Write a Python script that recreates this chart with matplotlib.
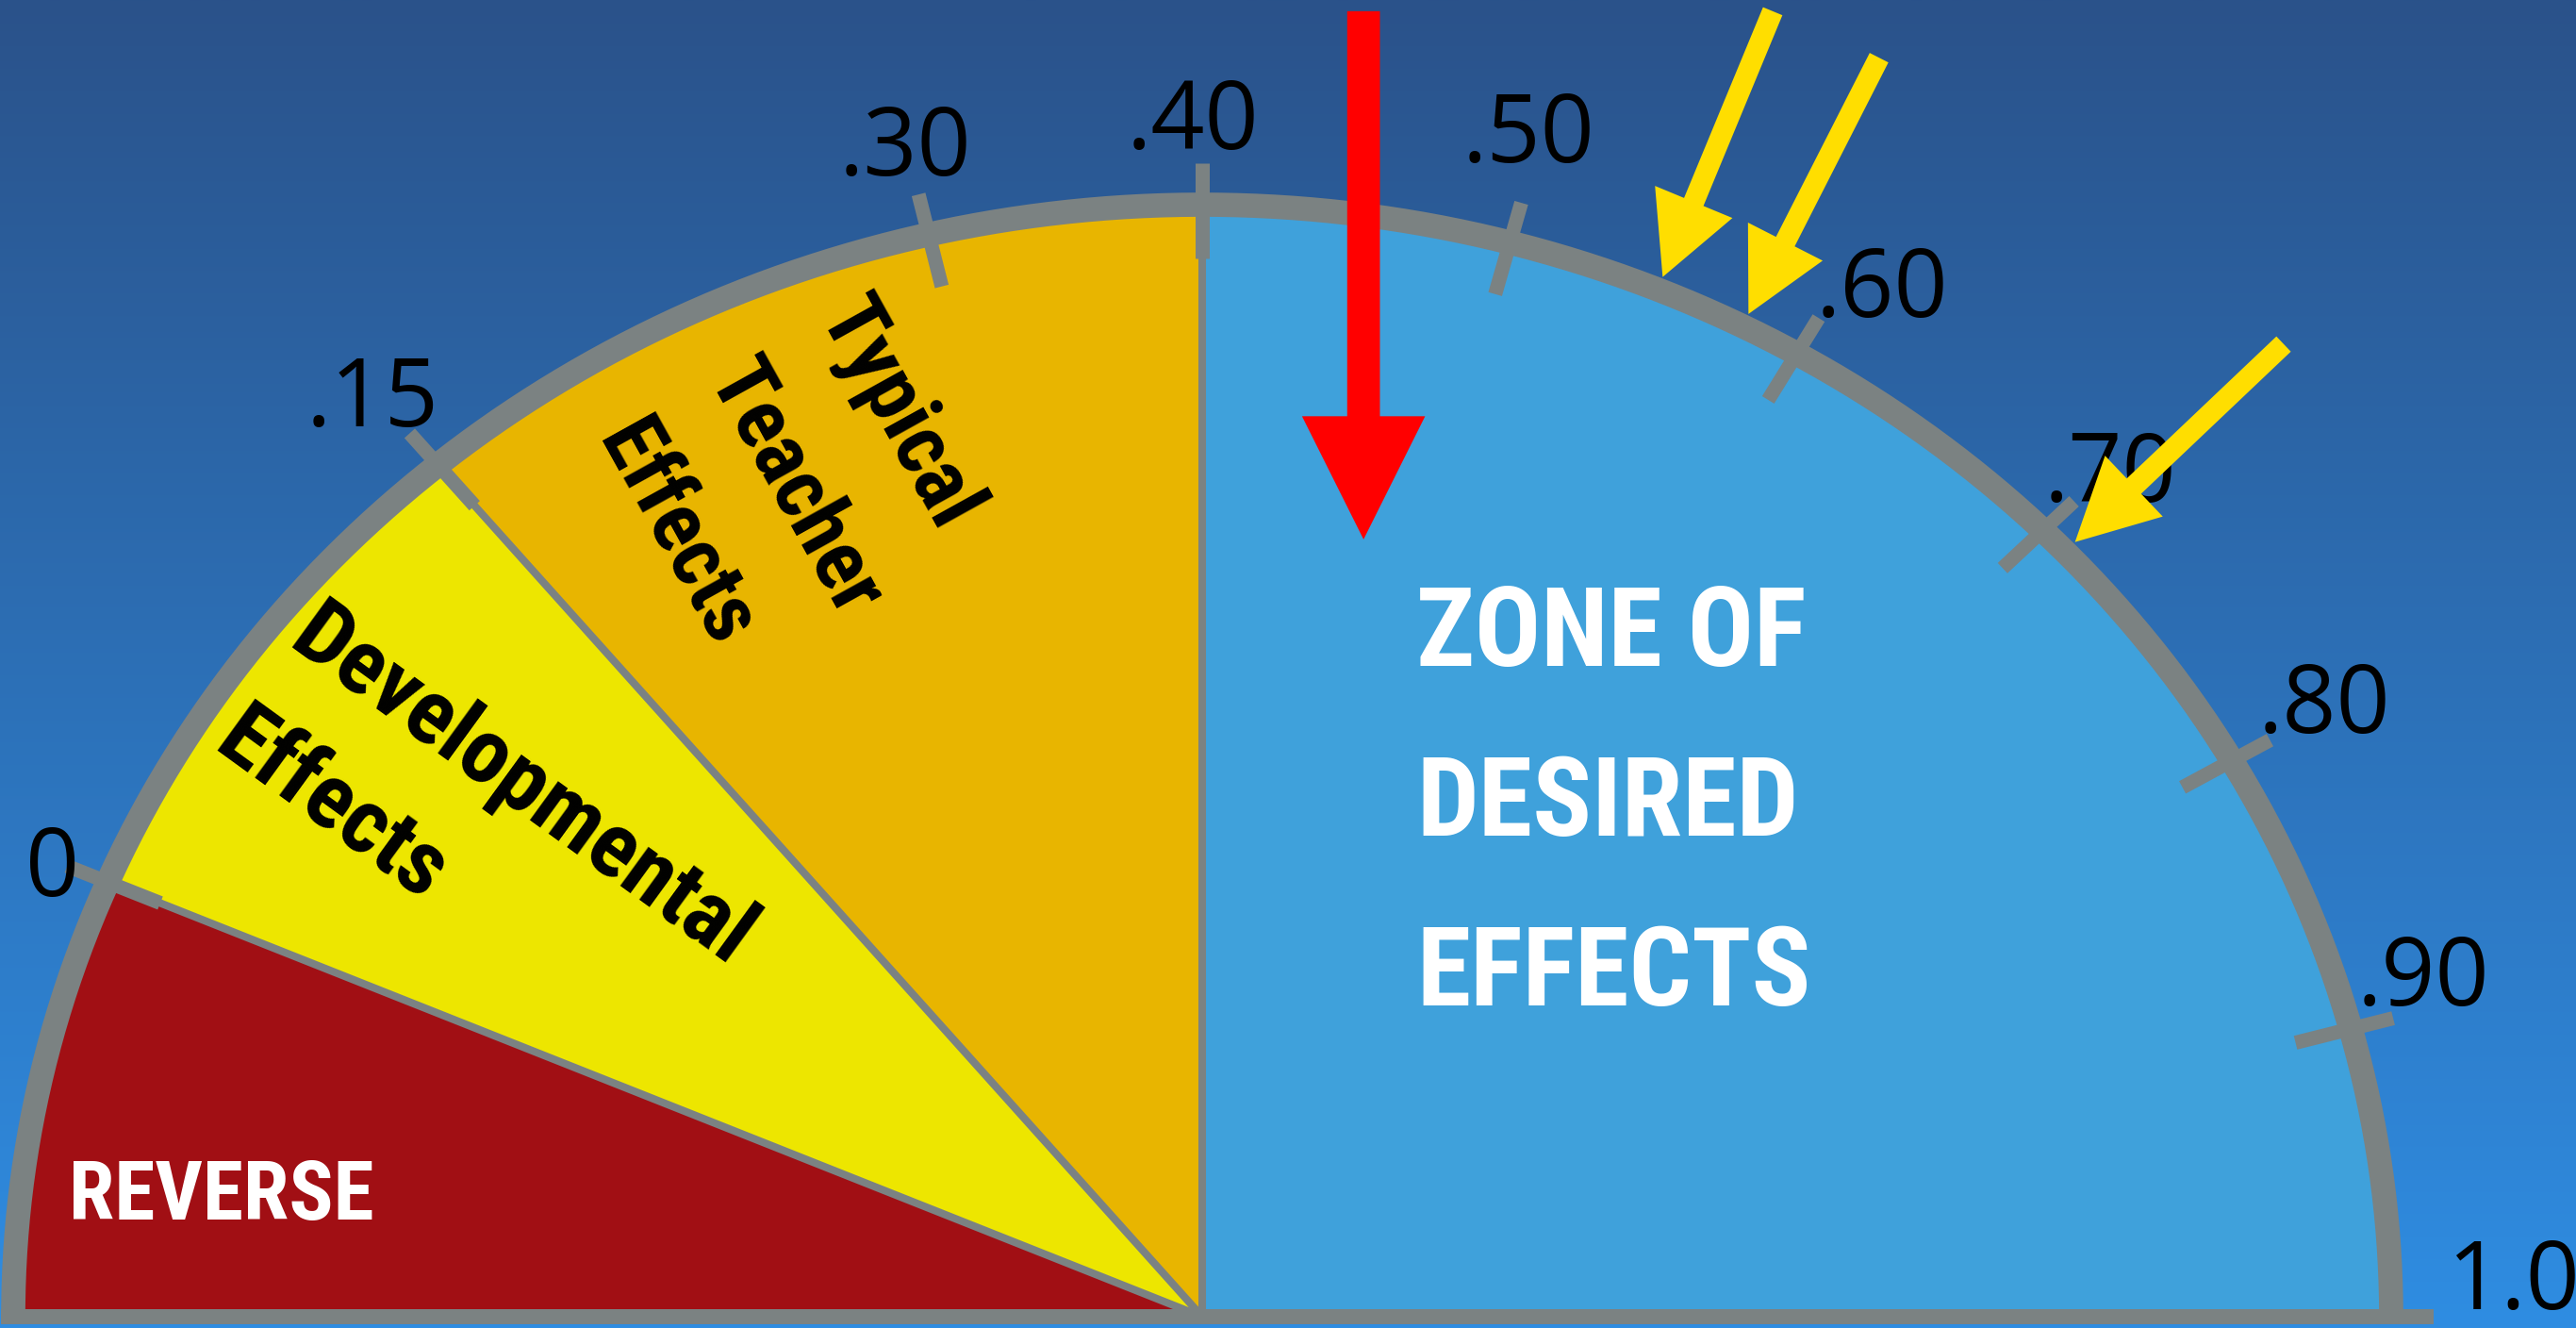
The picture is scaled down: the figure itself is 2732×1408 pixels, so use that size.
import numpy as np
import matplotlib
matplotlib.use("Agg")
import matplotlib.pyplot as plt
from matplotlib.patches import FancyArrowPatch

# ---------------- data ----------------
# gauge scale: value -> angle (degrees) read off the dial
scale_values = [-0.12, 0.0, 0.15, 0.30, 0.40, 1.0]
scale_angles = [180.0, 157.0, 130.0, 103.3, 90.0, 0.0]

zone_bounds = [-0.12, 0.0, 0.15, 0.40, 1.0]
zone_names = ["REVERSE", "Developmental\nEffects", "Typical\nTeacher\nEffects",
              "ZONE OF\nDESIRED\nEFFECTS"]
zone_colors = ["#a10f14", "#ede600", "#e8b500", "#3fa1db"]

tick_values = [0.0, 0.15, 0.30, 0.40, 0.50, 0.60, 0.70, 0.80, 0.90, 1.0]
tick_labels = ["0", ".15", ".30", ".40", ".50", ".60", ".70", ".80", ".90", "1.0"]

red_arrow_value = 0.452
yellow_arrow_values = [0.55, 0.58, 0.71]

# ---------------- layout ----------------
W, H, DPI = 2732, 1408, 100
CX, CY, RX, RY = 1275, 1396, 1261, 1179   # dial centre / radii in pixels
GRAY = "#7b8282"
COND = ["Roboto Condensed", "Liberation Sans Narrow", "DejaVu Sans"]
NUM = ["Open Sans", "DejaVu Sans"]
# label placement (radius, angle shift) around the dial
label_radius = [1.05, 1.085, 1.086, 1.081, 1.103, 1.091, 1.08, 1.095, 1.073]
label_shift = [0.1, 0.0, 0.0, 0.4, 0.6, -1.6, 0.0, 0.5, 1.8]

fig = plt.figure(figsize=(W / DPI, H / DPI), dpi=DPI)
ax = fig.add_axes([0, 0, 1, 1])
x0, x1 = -CX / RX, (W - CX) / RX
y0, y1 = (CY - H) / RY, CY / RY
ax.set_xlim(x0, x1)
ax.set_ylim(y0, y1)
ax.axis("off")

# background gradient
g = np.linspace(0, 1, 512)[:, None, None]
top = np.array([42, 82, 138]) / 255
bot = np.array([47, 141, 226]) / 255
img = top + (bot - top) * g
ax.imshow(img, extent=[x0, x1, y0, y1], aspect="auto", origin="upper", zorder=0)


def ang(v):
    return np.interp(v, scale_values, scale_angles)


def pol(r, a):
    t = np.radians(a)
    return r * np.cos(t), r * np.sin(t)


# zones
for lo, hi, c in zip(zone_bounds[:-1], zone_bounds[1:], zone_colors):
    t = np.radians(np.linspace(ang(lo), ang(hi), 300))
    xs = np.concatenate([[0], np.cos(t)])
    ys = np.concatenate([[0], np.sin(t)])
    ax.fill(xs, ys, color=c, lw=0, zorder=1)

# dividers
for b in zone_bounds[1:-1]:
    xe, ye = pol(1.0, ang(b))
    ax.plot([0, xe], [0, ye], color=GRAY, lw=5.8, solid_capstyle="butt", zorder=2)

# rim
t = np.radians(np.linspace(0, 180, 600))
ax.plot(np.cos(t), np.sin(t), color=GRAY, lw=18.5, solid_capstyle="butt", zorder=3)

# ticks
for v in tick_values[:-1]:
    a = ang(v)
    xa, ya = pol(0.952, a)
    xb, yb = pol(1.037, a)
    ax.plot([xa, xb], [ya, yb], color=GRAY, lw=10.8, solid_capstyle="butt", zorder=4)

# base line (extends to the 1.0 tick)
ax.plot([-1.01, 1.036], [0, 0], color=GRAY, lw=11.5, solid_capstyle="butt", zorder=4)

# tick labels
cap_off = 36 / RY
for i, (v, lab) in enumerate(zip(tick_values, tick_labels)):
    if v == tick_values[-1]:
        xl, yl = 1.103, 0.037
    else:
        xl, yl = pol(label_radius[i], ang(v) + label_shift[i])
    ax.text(xl, yl - cap_off, lab, ha="center", va="baseline", fontsize=72,
            family=NUM, color="black", zorder=6)

# zone texts
ax.text(-0.953, 0.0874, zone_names[0], ha="left", va="baseline", color="white",
        fontsize=63, fontweight="bold", family=COND, zorder=6)
ax.text(-0.737, 0.652, zone_names[1], ha="left", va="top", rotation=-36,
        rotation_mode="anchor", multialignment="left", linespacing=1.6,
        color="black", fontsize=70, fontweight="bold", family=COND, zorder=6)
ax.text(-0.276, 0.927, zone_names[2], ha="left", va="top", rotation=-61,
        rotation_mode="anchor", multialignment="left", linespacing=1.7,
        color="black", fontsize=65, fontweight="bold", family=COND, zorder=6)
ax.text((1502 - CX) / RX, (CY - 1066) / RY, zone_names[3], ha="left", va="baseline",
        multialignment="left", linespacing=1.77, color="white", fontsize=84,
        fontweight="bold", family=COND, zorder=6)

# red arrow (vertical, pointing just past .40)
xr = np.cos(np.radians(ang(red_arrow_value)))
ax.add_patch(FancyArrowPatch((xr, 1.174), (xr, 0.699),
                             arrowstyle="simple,head_length=94,head_width=94,tail_width=25",
                             mutation_scale=1, shrinkA=0, shrinkB=0, lw=0,
                             color="#ff0000", zorder=7))

# yellow arrows (pointing at the rim from outside)
L = 305.0
for v in yellow_arrow_values:
    a = ang(v)
    tip = pol(1.012, a)
    tail = (tip[0] + L * np.cos(np.radians(a)) / RX,
            tip[1] + L * np.sin(np.radians(a)) / RY)
    ax.add_patch(FancyArrowPatch(tail, tip,
                                 arrowstyle="simple,head_length=62,head_width=64,tail_width=16",
                                 mutation_scale=1, shrinkA=0, shrinkB=0, lw=0,
                                 color="#ffde00", zorder=7))

fig.savefig("out.png", dpi=DPI)
